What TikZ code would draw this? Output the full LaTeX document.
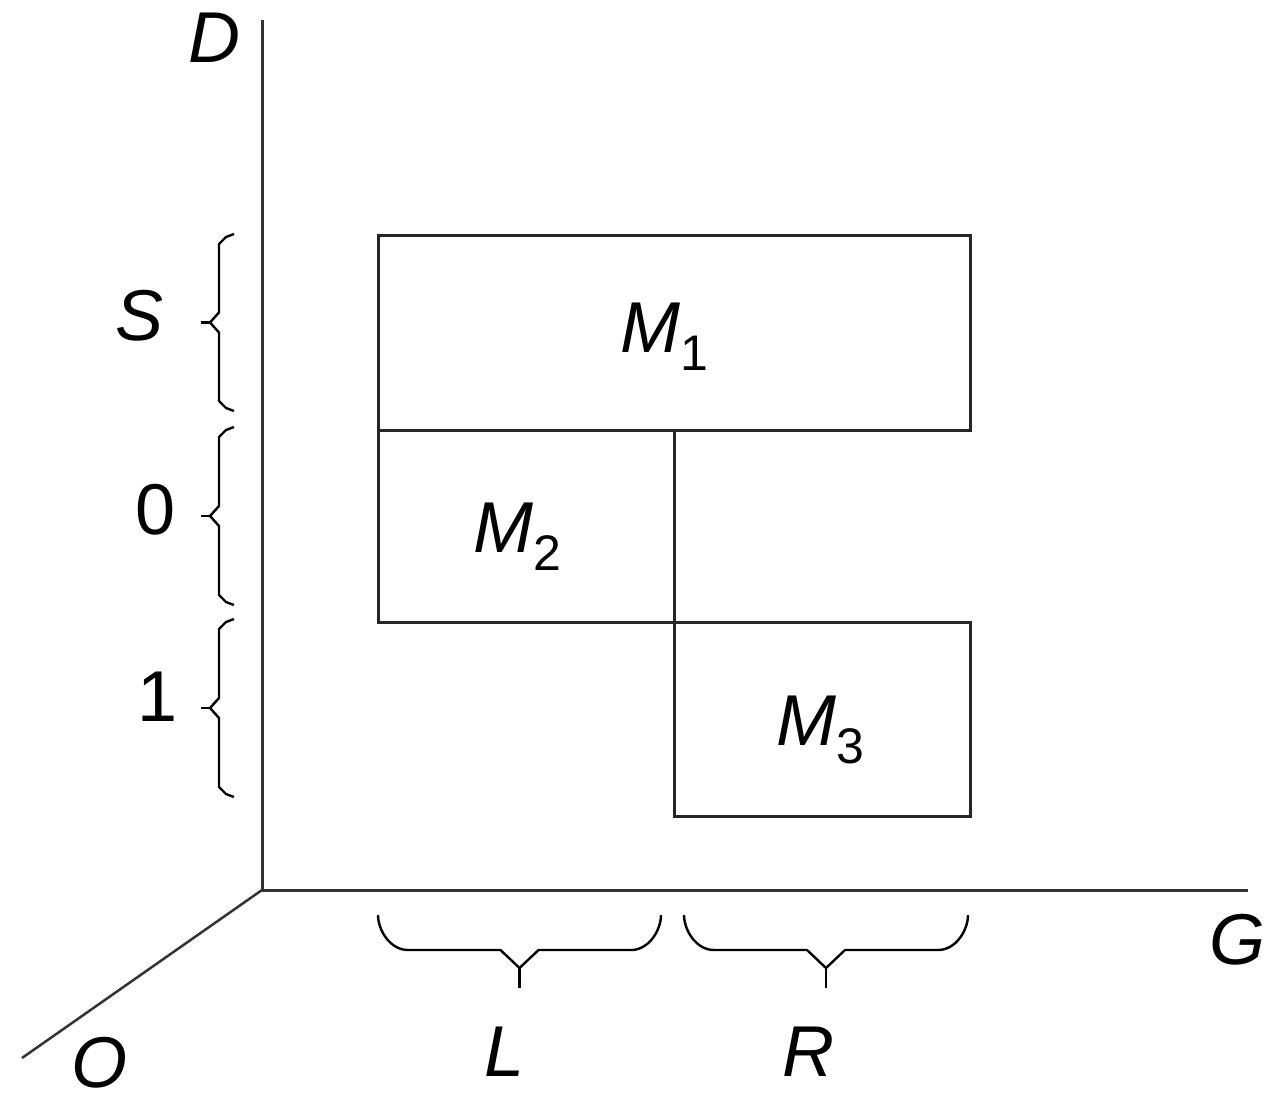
\documentclass[tikz,border=0pt]{standalone}
\usepackage{fontspec}
\setmainfont{Liberation Sans}
\begin{document}
\begin{tikzpicture}[x=1pt,y=-1pt,
  ax/.style={draw=black!80,line width=3pt},
  box/.style={draw=black!85,line width=3pt},
  br/.style={draw=black,line width=2.4pt,line join=round},
  lab/.style={inner sep=0pt,font=\fontsize{72}{80}\selectfont\itshape},
  num/.style={inner sep=0pt,font=\fontsize{72}{80}\selectfont},
  mlab/.style={inner sep=0pt,anchor=base west,font=\fontsize{72}{80}\selectfont}]
\path[use as bounding box] (0,0) rectangle (1268,1101);
% axes
\coordinate (orig) at (262,890);
\coordinate (dtop) at (262,20);
\coordinate (gend) at (1248,890);
\coordinate (oend) at (22,1058);
\draw[ax] (dtop) -- (orig) -- (gend);
\draw[ax,line width=2.5pt] (orig) -- (oend);
% boxes
\coordinate (a) at (378,235);
\coordinate (b) at (970,430);
\coordinate (c) at (378,430);
\coordinate (d) at (674,622);
\coordinate (e) at (674,430);
\coordinate (f) at (970,816);
\draw[box] (a) rectangle (b);
\draw[box] (c) rectangle (d);
\draw[box] (d) rectangle (f);
\draw[box] (e) -- (d);
% labels in boxes
\node[mlab] (m1) at (620,352) {\textit{M}\raisebox{-18pt}{\fontsize{50}{50}\selectfont 1}};
\node[mlab] (m2) at (473,552) {\textit{M}\raisebox{-18pt}{\fontsize{50}{50}\selectfont 2}};
\node[mlab] (m3) at (776,745) {\textit{M}\raisebox{-18pt}{\fontsize{50}{50}\selectfont 3}};
% left braces (top y, bottom y)
\foreach \t/\b in {234/411, 427/605, 619/797}{
  \pgfmathsetmacro{\m}{(\t+\b)/2}
  \draw[br] (234,\t) -- (226,\t+3) -- (219,\t+10) -- (219,\m-10) -- (210,\m) -- (219,\m+10)
     -- (219,\b-10) -- (226,\b-3) -- (234,\b);
  \draw[br] (210,\m) -- (201,\m);
}
% bottom braces (left x, right x)
\foreach \l/\r in {378/661, 684/968}{
  \pgfmathsetmacro{\m}{(\l+\r)/2}
  \draw[br] (\l,915) .. controls (\l,930) and (\l+12,950) .. (\l+30,950) -- (\m-19,950) -- (\m,968)
     -- (\m+19,950) -- (\r-30,950) .. controls (\r-12,950) and (\r,930) .. (\r,915);
  \draw[br] (\m,968) -- (\m,988);
}
% axis and brace labels
\node[lab] (D) at (214,38) {D};
\node[lab] (G) at (1237,940) {G};
\node[lab] (O) at (100,1063) {O};
\node[lab] (S) at (140,316) {S};
\node[num] (n0) at (156,510) {0};
\node[num] (n1) at (158,697) {1};
\node[lab] (L) at (505,1052) {L};
\node[lab] (R) at (808,1052) {R};
\end{tikzpicture}
\end{document}
